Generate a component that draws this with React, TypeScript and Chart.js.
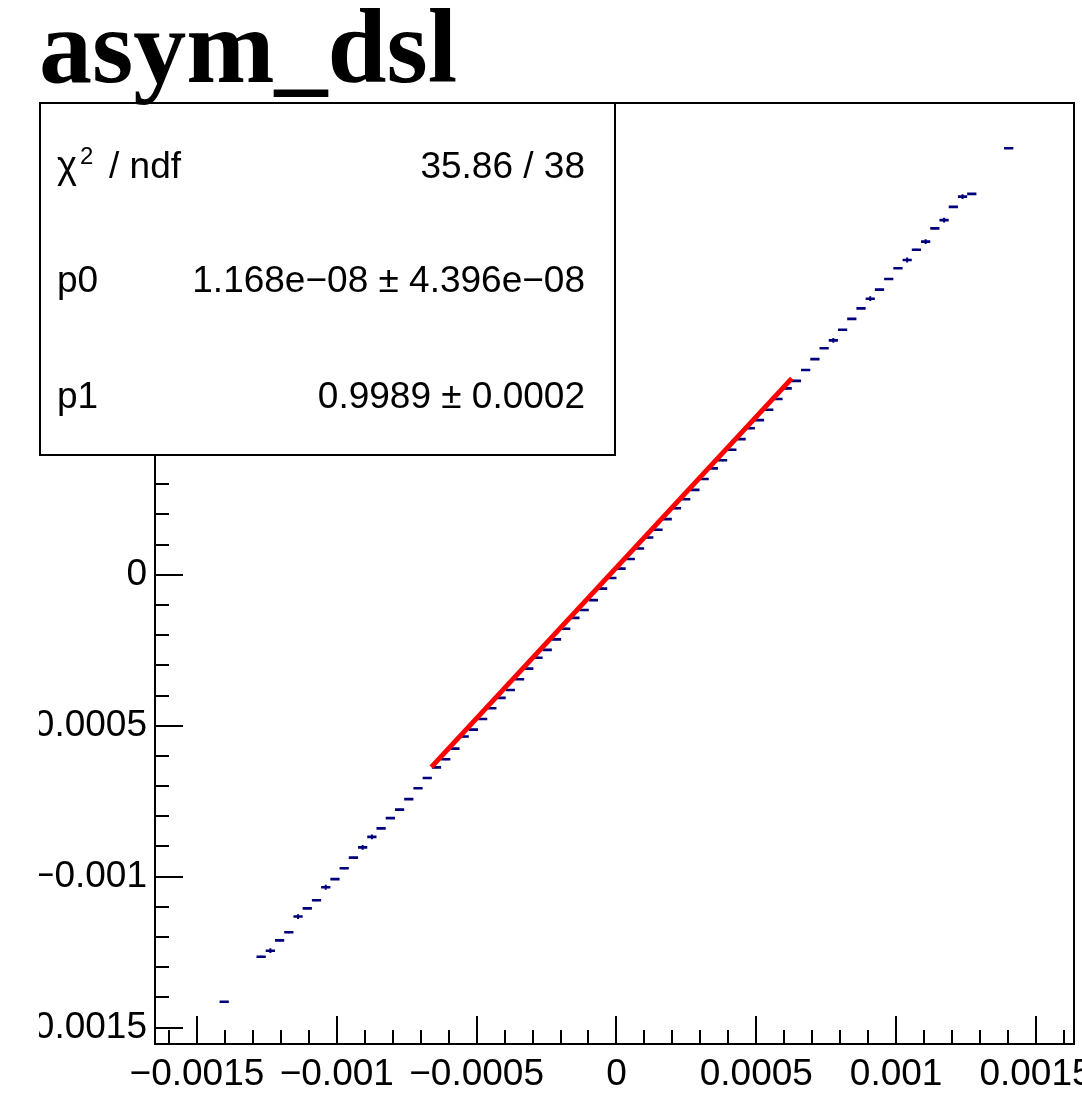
import React, { useEffect, useRef } from 'react';
import { Chart, registerables } from 'chart.js';

Chart.register(...registerables);

// ---- data ----
const TITLE = 'asym_dsl';
const HIST_MIN = -0.00165;
const HIST_MAX = 0.00165;
const N_BINS = 100;

const binIndex = [7, 11, 12, 13, 14, 15, 16, 17, 18, 19, 20, 21, 22, 23, 24, 25, 26, 27, 28,
  29, 30, 31, 32, 33, 34, 35, 36, 37, 38, 39, 40, 41, 42, 43, 44, 45, 46, 47,
  48, 49, 50, 51, 52, 53, 54, 55, 56, 57, 58, 59, 60, 61, 62, 63, 64, 65, 66, 67, 68, 69,
  70, 71, 72, 73, 74, 75, 76, 77, 78, 79, 80, 81, 82, 83, 84, 85, 86, 87, 88, 92];

const profileMean = [-0.001414,
  -0.001265, -0.001245, -0.001211, -0.001184, -0.001132, -0.001105, -0.001078, -0.001035, -0.001008,
  -0.000972, -0.000937, -0.000903, -0.000868, -0.000840, -0.000806, -0.000778, -0.000743, -0.000707,
  -0.000673, -0.000638, -0.000611, -0.000576, -0.000536, -0.000513, -0.000478, -0.000442, -0.000408,
  -0.000382, -0.000346, -0.000311, -0.000275, -0.000249, -0.000214, -0.000179, -0.000143, -0.000117, -0.000084,
  -0.000046, -0.000011, 0.000020, 0.000052, 0.000087, 0.000123, 0.000149, 0.000184, 0.000220, 0.000250,
  0.000281, 0.000317, 0.000352, 0.000379, 0.000414, 0.000449, 0.000485, 0.000512, 0.000546, 0.000582,
  0.000617, 0.000642,
  0.000678, 0.000714, 0.000750, 0.000776, 0.000811, 0.000847, 0.000882, 0.000914, 0.000944, 0.000979,
  0.001015, 0.001042, 0.001076, 0.001103, 0.001147, 0.001174, 0.001218, 0.001252, 0.001261,
  0.001412];

const profileErr = [0,
  3e-6, 8e-6, 3e-6, 3e-6, 8e-6, 3e-6, 3e-6, 8e-6, 3e-6, 3e-6, 3e-6, 8e-6, 8e-6, 3e-6, 3e-6, 3e-6, 3e-6, 3e-6,
  3e-6, 3e-6, 3e-6, 3e-6, 3e-6, 3e-6, 3e-6, 3e-6, 3e-6, 3e-6, 3e-6, 3e-6, 3e-6, 3e-6, 3e-6, 3e-6, 3e-6, 3e-6, 3e-6,
  3e-6, 3e-6, 3e-6, 3e-6, 3e-6, 3e-6, 3e-6, 3e-6, 3e-6, 3e-6, 3e-6, 3e-6, 3e-6, 3e-6, 3e-6, 3e-6, 3e-6, 3e-6, 3e-6, 3e-6, 3e-6, 3e-6,
  3e-6, 3e-6, 3e-6, 8e-6, 3e-6, 3e-6, 3e-6, 8e-6, 3e-6, 3e-6, 3e-6, 8e-6, 3e-6, 8e-6, 3e-6, 8e-6, 3e-6, 8e-6, 3e-6,
  0];

const fitX = [-0.000662, 0.000627];
const fitY = [-0.000637, 0.000650];

const majorTicks = [-0.0015, -0.001, -0.0005, 0, 0.0005, 0.001, 0.0015];

const statLabels = ['p0', 'p1'];
const statValues = ['35.86 / 38', '1.168e\u221208 \u00B1 4.396e\u221208', '0.9989 \u00B1 0.0002'];

// axis ranges
const X_MIN = -0.00165;
const X_MAX = 0.001636;
const Y_MIN = -0.001554;
const Y_MAX = 0.001562;

const CANVAS_W = 1043;
const CANVAS_H = 1105;

const isMajor = (v: number) => majorTicks.some((m) => Math.abs(m - v) < 1e-9);
const fmt = (v: number) => {
  if (Math.abs(v) < 1e-12) return '0';
  const s = Math.abs(v).toFixed(4).replace(/0+$/, '');
  return (v < 0 ? '\u2212' : '') + s;
};
const tickLabel = (v: number) => (isMajor(v) ? fmt(v) : '');

const FONT = '"Liberation Sans", Arial, Helvetica, sans-serif';

export default function App() {
  const ref = useRef<HTMLCanvasElement | null>(null);

  useEffect(() => {
    if (!ref.current) return;
    const binWidth = (HIST_MAX - HIST_MIN) / N_BINS;
    const barData: any[] = [];
    const errData: any[] = [];
    binIndex.forEach((b, k) => {
      const c = HIST_MIN + (b + 0.5) * binWidth;
      const y = profileMean[k];
      const e = profileErr[k];
      barData.push({ x: c - binWidth / 2, y }, { x: c + binWidth / 2, y }, { x: c, y: null });
      if (e > 0) errData.push({ x: c, y: y - e }, { x: c, y: y + e }, { x: c, y: null });
    });
    const fitData = fitX.map((x, i) => ({ x, y: fitY[i] }));

    const rootPlugin = {
      id: 'rootStyle',
      beforeDatasetsDraw(chart: any) {
        const { ctx, chartArea: a, scales } = chart;
        ctx.save();
        ctx.strokeStyle = '#000';
        ctx.lineWidth = 2;
        ctx.beginPath();
        for (const t of scales.x.ticks) {
          const px = Math.round(scales.x.getPixelForValue(t.value));
          const len = isMajor(t.value) ? 28 : 14;
          ctx.moveTo(px, a.bottom);
          ctx.lineTo(px, a.bottom - len);
        }
        for (const t of scales.y.ticks) {
          const py = Math.round(scales.y.getPixelForValue(t.value));
          const len = isMajor(t.value) ? 28 : 14;
          ctx.moveTo(a.left, py);
          ctx.lineTo(a.left + len, py);
        }
        ctx.stroke();
        ctx.strokeRect(a.left, a.top, a.right - a.left, a.bottom - a.top);
        ctx.restore();
      },
      afterDraw(chart: any) {
        const { ctx } = chart;
        ctx.save();
        // stats box
        const bx = 1, by = 103, bw = 575, bh = 352;
        ctx.fillStyle = '#fff';
        ctx.fillRect(bx, by, bw, bh);
        ctx.strokeStyle = '#000';
        ctx.lineWidth = 2;
        ctx.strokeRect(bx, by, bw, bh);
        ctx.fillStyle = '#000';
        ctx.textBaseline = 'alphabetic';
        const baselines = [178, 292, 408];
        // chi2 / ndf label
        ctx.textAlign = 'left';
        ctx.font = `38px ${FONT}`;
        ctx.fillText('\u03C7', 18, baselines[0]);
        ctx.font = `24px ${FONT}`;
        ctx.fillText('2', 41, baselines[0] - 14);
        ctx.font = `37px ${FONT}`;
        ctx.fillText('/ ndf', 70, baselines[0]);
        statLabels.forEach((l, i) => {
          ctx.textAlign = 'left';
          ctx.fillText(l, 18, baselines[i + 1]);
        });
        statValues.forEach((v, i) => {
          ctx.textAlign = 'right';
          ctx.fillText(v, 546, baselines[i]);
        });
        // title
        ctx.font = 'bold 106px "Liberation Serif", "Times New Roman", serif';
        ctx.textAlign = 'left';
        ctx.fillText(TITLE, 0, 82);
        ctx.restore();
      },
    };

    const tickFont = { family: FONT, size: 37 };

    const chart = new Chart(ref.current, {
      type: 'scatter',
      data: {
        datasets: [
          {
            data: fitData,
            showLine: true,
            borderColor: '#ff0000',
            borderWidth: 5,
            pointRadius: 0,
            spanGaps: false,
          },
          {
            data: barData,
            showLine: true,
            borderColor: '#00007a',
            borderWidth: 2.6,
            pointRadius: 0,
            spanGaps: false,
          },
          {
            data: errData,
            showLine: true,
            borderColor: '#00007a',
            borderWidth: 2,
            pointRadius: 0,
            spanGaps: false,
          },
        ],
      },
      options: {
        animation: false,
        responsive: false,
        devicePixelRatio: 1,
        events: [],
        layout: { padding: { left: 0, top: 103, right: 8, bottom: 0 } },
        plugins: { legend: { display: false }, tooltip: { enabled: false }, title: { display: false } },
        scales: {
          x: {
            type: 'linear',
            min: X_MIN,
            max: X_MAX,
            grid: { display: false, drawTicks: false, tickLength: 0 },
            border: { display: false },
            ticks: {
              stepSize: 0.0001,
              includeBounds: false,
              autoSkip: false,
              maxRotation: 0,
              minRotation: 0,
              padding: 9,
              color: '#000',
              font: tickFont,
              callback: (v: any) => tickLabel(Number(v)),
            },
            afterFit: (s: any) => { s.height = CANVAS_H - 1044; },
          },
          y: {
            type: 'linear',
            min: Y_MIN,
            max: Y_MAX,
            grid: { display: false, drawTicks: false, tickLength: 0 },
            border: { display: false },
            ticks: {
              stepSize: 0.0001,
              includeBounds: false,
              autoSkip: false,
              padding: 8,
              color: '#000',
              font: tickFont,
              callback: (v: any) => tickLabel(Number(v)),
            },
            afterFit: (s: any) => { s.width = 116; },
          },
        },
      } as any,
      plugins: [rootPlugin],
    });
    return () => chart.destroy();
  }, []);

  return (
    <div style={{ position: 'absolute', left: 39, top: 0, width: CANVAS_W, height: CANVAS_H, background: '#fff' }}>
      <canvas ref={ref} width={CANVAS_W} height={CANVAS_H} style={{ width: CANVAS_W, height: CANVAS_H, display: 'block' }} />
    </div>
  );
}
